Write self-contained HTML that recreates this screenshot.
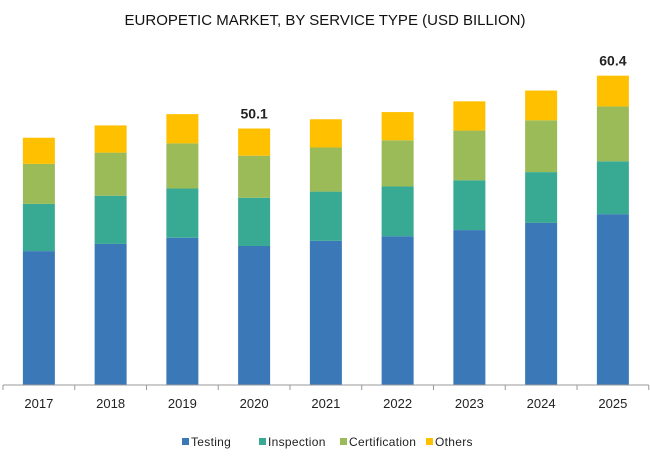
<!DOCTYPE html>
<html><head><meta charset="utf-8"><style>
body{margin:0;background:#fff;width:650px;height:460px;overflow:hidden;font-family:"Liberation Sans",sans-serif}
</style></head><body>
<svg id="chart" width="650" height="460" xmlns="http://www.w3.org/2000/svg">
<text x="325" y="25" text-anchor="middle" font-size="15" fill="#111" font-family="Liberation Sans Narrow, Liberation Sans, sans-serif">EUROPETIC MARKET,  BY SERVICE TYPE (USD BILLION)</text>
<g id="bars"></g>
<g id="axis"></g>
<g id="legend"></g>
</svg>
<script>
const categories=["2017","2018","2019","2020","2021","2022","2023","2024","2025"];
const testing=[26.1,27.5,28.7,27.1,28.1,29.0,30.2,31.6,33.3];
const inspection=[9.2,9.4,9.6,9.4,9.6,9.7,9.7,9.9,10.3];
const certification=[7.8,8.4,8.8,8.2,8.6,9.0,9.7,10.1,10.7];
const others=[5.1,5.3,5.7,5.3,5.5,5.5,5.7,5.8,6.0];
const totalLabels={"2020":"50.1","2025":"60.4"};
const seriesNames=["Testing","Inspection","Certification","Others"];
const colors=["#3a78b8","#38a993","#9bbb59","#ffc000"];
const series=[testing,inspection,certification,others];
const ns="http://www.w3.org/2000/svg";
const base=385,k=5.13,x0=3,step=71.75,bw=32;
const xc=i=>x0+step*(i+0.5);
const y=v=>base-v*k;
function mk(t,a,p){const e=document.createElementNS(ns,t);for(const n in a)e.setAttribute(n,a[n]);p.appendChild(e);return e;}
const gb=document.getElementById('bars');
categories.forEach((c,i)=>{
  let acc=0;
  series.forEach((s,j)=>{
    const r=mk('rect',{x:xc(i)-bw/2,y:y(acc+s[i]),width:bw,height:s[i]*k,fill:colors[j]},gb);
    
    
    acc+=s[i];
  });
  if(totalLabels[c]){
    const t=mk('text',{x:xc(i),y:y(acc)-10,'text-anchor':'middle','font-size':14,'font-weight':'bold',fill:'#222'},gb);
    t.textContent=totalLabels[c];
    
    
  }
});
const ga=document.getElementById('axis');
const ax=mk('line',{x1:x0,x2:x0+step*categories.length,y1:base,y2:base,stroke:'#999','stroke-width':1},ga);


for(let i=0;i<=categories.length;i++){
  mk('line',{x1:x0+step*i,x2:x0+step*i,y1:base,y2:base+5,stroke:'#999'},ga);
}
categories.forEach((c,i)=>{
  const t=mk('text',{x:xc(i),y:408,'text-anchor':'middle','font-size':13,fill:'#222'},ga);
  t.textContent=c;
  
  
});
const gl=document.getElementById('legend');
const lx=[182,259,340,426];
seriesNames.forEach((n,j)=>{
  const g=mk('g',{},gl);
  
  
  mk('rect',{x:lx[j],y:438,width:7,height:7,fill:colors[j]},g);
  const t=mk('text',{x:lx[j]+9,y:446,'font-size':12,'letter-spacing':0.3,fill:'#222'},g);
  t.textContent=n;
});
</script>
</body></html>
